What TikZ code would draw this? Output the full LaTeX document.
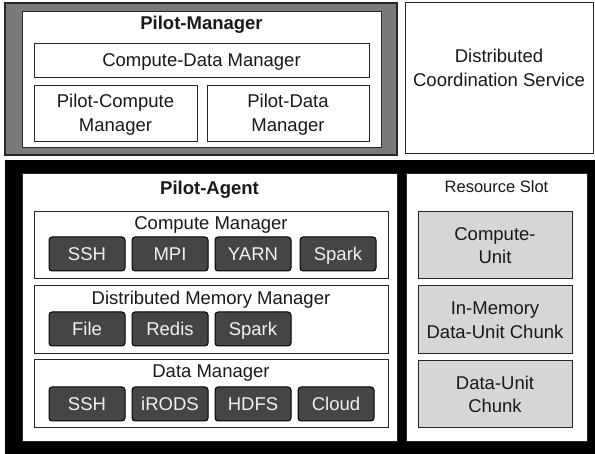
\documentclass[tikz,border=0pt]{standalone}
\usepackage{fontspec}
\setmainfont{Liberation Sans}
\begin{document}
\begin{tikzpicture}[x=1pt,y=-1pt,
  every node/.style={inner sep=0pt,outer sep=0pt},
  txt/.style={font=\fontsize{18.5}{23.5}\selectfont,text=black!90,align=center},
  btxt/.style={font=\fontsize{18.5}{23.5}\selectfont\bfseries,text=black!90},
  stxt/.style={font=\fontsize{16.5}{19}\selectfont,text=black!90},
  wbox/.style={draw=black!85,line width=1pt,fill=white},
  gbox/.style={draw=black!85,line width=1pt,fill=black!16},
  btn/.style={draw=black,line width=1pt,fill=black!73,rounded corners=3pt},
  btnt/.style={font=\fontsize{18.5}{21}\selectfont,text=black!5,text height=13.2pt,text depth=0pt}
]
\useasboundingbox (0,0) rectangle (595,454);
% ---------- top: Pilot-Manager ----------
\filldraw[fill=black!52,draw=black!85,line width=1.5pt] (5,3) rectangle (397,155);
\draw[wbox] (22,12) rectangle (381,148);
\node[btxt] (pm) at (201.5,25) {Pilot-Manager};
\draw[wbox] (34,44) rectangle (369,78);
\node[txt] (cdm) at (201.5,61.5) {Compute-Data Manager};
\draw[wbox] (34,86) rectangle (197,142);
\node[txt] (pcm) at (115.5,114.5) {Pilot-Compute\\Manager};
\draw[wbox] (207,86) rectangle (369,142);
\node[txt] (pdm) at (288,114.5) {Pilot-Data\\Manager};
% Distributed Coordination Service
\draw[wbox] (405,3) rectangle (593,154);
\node[txt] (dcs) at (499,68) {Distributed\\Coordination Service};
% ---------- bottom: black frame ----------
\fill[black] (5,160) rectangle (595,454);
\draw[wbox] (22,174) rectangle (397,442);
\node[btxt] (pa) at (209.5,190) {Pilot-Agent};
% Compute Manager
\draw[wbox] (34,212) rectangle (388,279);
\node[txt] (cm) at (211,225) {Compute Manager};
\foreach \x/\t/\n in {49/SSH/c1,132/MPI/c2,215/YARN/c3,300/Spark/c4}{
  \draw[btn] (\x,237) rectangle ++(76,34);
  \node[btnt] (\n) at (\x+38,254) {\t};
}
% Distributed Memory Manager
\draw[wbox] (34,286) rectangle (388,354);
\node[txt] (dmm) at (211,300) {Distributed Memory Manager};
\foreach \x/\t/\n in {49/File/m1,132/Redis/m2,215/Spark/m3}{
  \draw[btn] (\x,312) rectangle ++(76,34);
  \node[btnt] (\n) at (\x+38,329) {\t};
}
% Data Manager
\draw[wbox] (34,360) rectangle (388,428);
\node[txt] (dm) at (211,373) {Data Manager};
\foreach \x/\t/\n in {49/SSH/d1,132/iRODS/d2,215/HDFS/d3,298/Cloud/d4}{
  \draw[btn] (\x,387) rectangle ++(76,34);
  \node[btnt] (\n) at (\x+38,404) {\t};
}
% Resource Slot
\draw[wbox] (406,174) rectangle (587,442);
\node[stxt] (rs) at (496.5,187) {Resource Slot};
\draw[gbox] (418,212) rectangle (572,279);
\node[txt] (cu) at (495,245.5) {Compute-\\Unit};
\draw[gbox] (418,286) rectangle (572,354);
\node[txt] (imc) at (495,320) {In-Memory\\Data-Unit Chunk};
\draw[gbox] (418,361) rectangle (572,428);
\node[txt] (duc) at (495,394.5) {Data-Unit\\Chunk};
\end{tikzpicture}
\end{document}
